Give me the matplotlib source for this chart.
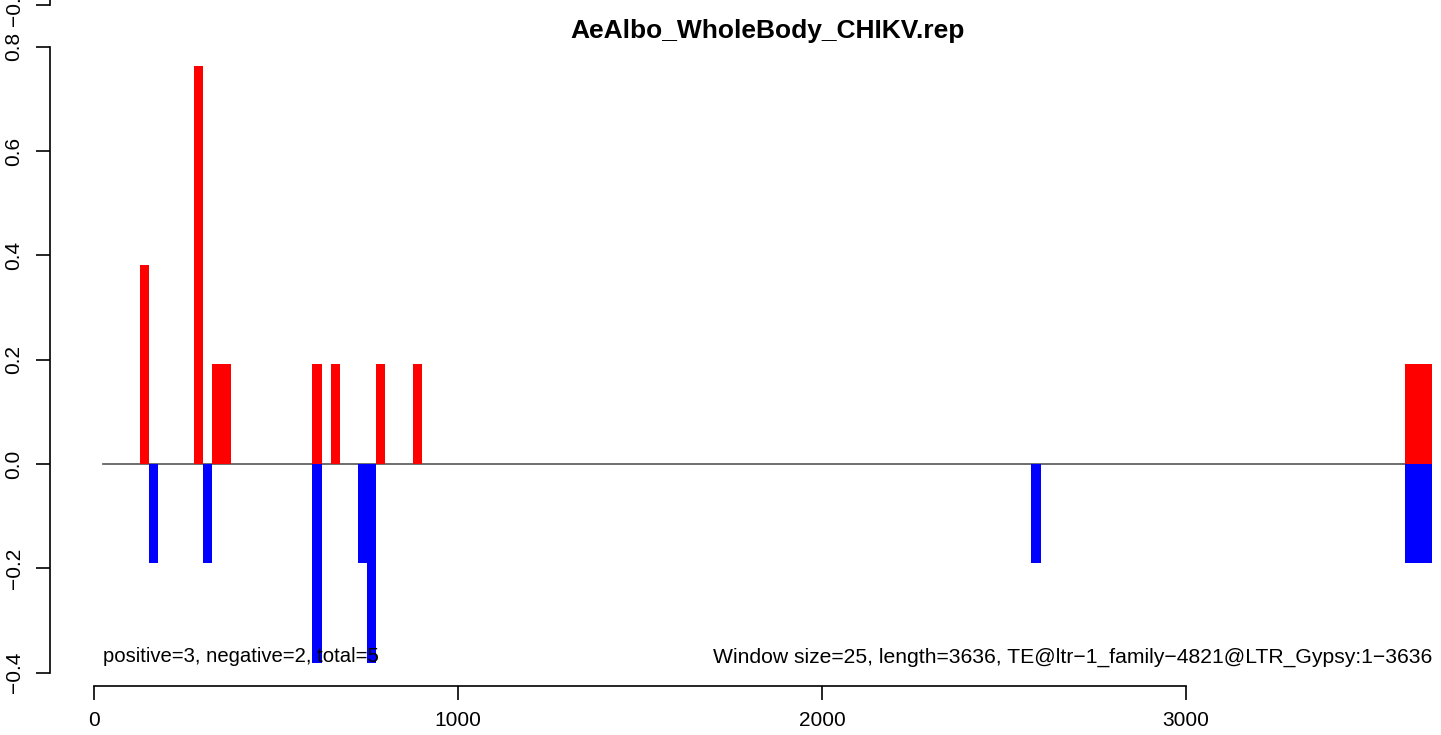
import matplotlib
matplotlib.use("Agg")
import matplotlib.pyplot as plt

plt.rcParams['font.family'] = ['Liberation Sans', 'DejaVu Sans']

# window data (window size 25)
win = 25
u = 0.1907
pos_start = [125, 275, 325, 350, 600, 650, 775, 875, 3600, 3625, 3650]
pos_val = [2*u, 4*u, u, u, u, u, u, u, u, u, u]
neg_start = [150, 300, 600, 725, 750, 2575, 3600, 3625, 3650]
neg_val = [-u, -u, -2*u, -u, -2*u, -u, -u, -u, -u]

title = "AeAlbo_WholeBody_CHIKV.rep"
left_note = "positive=3, negative=2, total=5"
right_note = "Window size=25, length=3636, TE@ltr\u22121_family\u22124821@LTR_Gypsy:1\u22123636"
xticks = [0, 1000, 2000, 3000]
yticks = [-0.4, -0.2, 0.0, 0.2, 0.4, 0.6, 0.8]

W, H = 1441, 735
fig = plt.figure(figsize=(W/100, H/100), dpi=100)

# plot region in pixels (extends past the right edge like the original)
L, R, B, T = 50, 1485, 686, 42
ax = fig.add_axes([L/W, 1 - B/H, (R-L)/W, (B-T)/H])
ax.set_xlim(-121, 3821)
ax.set_ylim(-0.4257, 0.809)

ax.bar(pos_start, pos_val, width=win, align='edge', color='red', linewidth=0)
ax.bar(neg_start, neg_val, width=win, align='edge', color='blue', linewidth=0)
ax.plot([25, 3600], [0, 0], color='#555555', lw=1.2, zorder=0)

ax.text(25, -0.37, left_note, ha='left', va='center', fontsize=14.6)
ax.text(3675, -0.37, right_note, ha='right', va='center', fontsize=15.2)

for s in ['top', 'right']:
    ax.spines[s].set_visible(False)
ax.spines['left'].set_bounds(-0.4, 0.8)
ax.spines['bottom'].set_bounds(0, 3000)
ax.spines['bottom'].set_linewidth(1.2)
ax.spines['left'].set_linewidth(1.2)
ax.set_xticks(xticks)
ax.set_yticks(yticks)
ax.set_yticklabels([f"{v:.1f}".replace("-", "\u2212") for v in yticks],
                   rotation=90, va='center')
ax.tick_params(axis='both', direction='out', length=10, width=1.2, labelsize=15)
ax.tick_params(axis='x', pad=8)
ax.tick_params(axis='y', pad=9)

# second (mostly clipped) axis poking in at the top
ax2 = fig.add_axes([L/W, 1 - 5/H, 0.01, 120/H])
ax2.set_ylim(-0.4, 0.0)
ax2.patch.set_visible(False)
for s in ['top', 'right', 'bottom']:
    ax2.spines[s].set_visible(False)
ax2.spines['left'].set_linewidth(1.2)
ax2.set_xticks([])
ax2.set_yticks([-0.4])
ax2.set_yticklabels(["\u22120.4"], rotation=90, va='center')
ax2.tick_params(axis='y', direction='out', length=10, width=1.2, labelsize=15, pad=9)

fig.text(768/W, 1 - 31/H, title, ha='center', va='center',
         fontsize=19, fontweight='bold')

fig.savefig("out.png", dpi=100)
